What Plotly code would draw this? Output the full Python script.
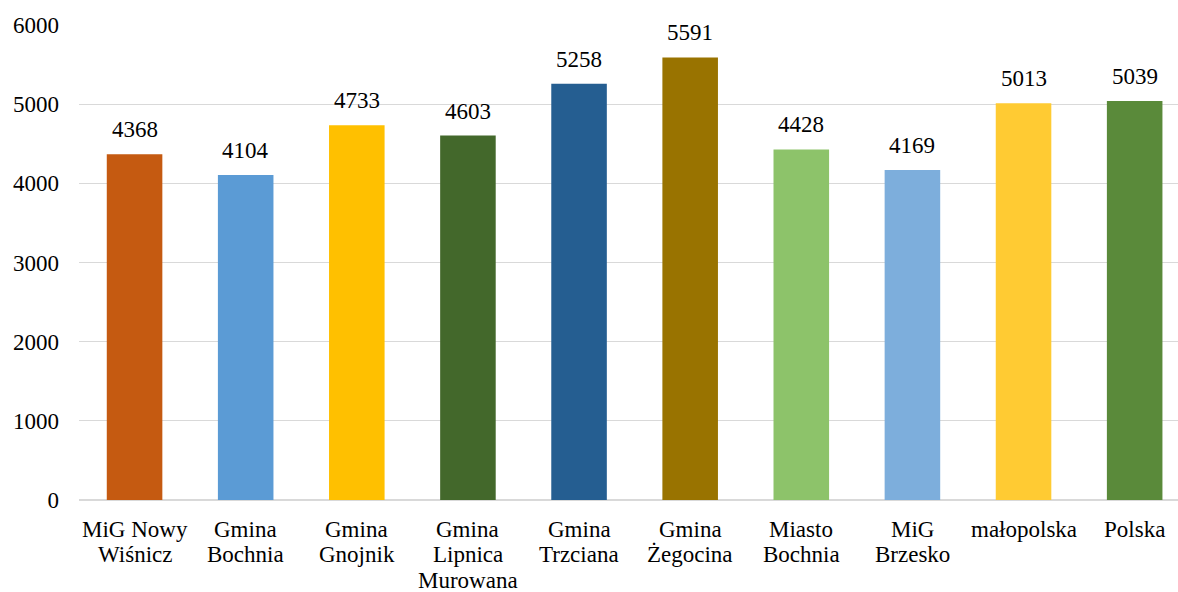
import plotly.graph_objects as go

categories = ["MiG Nowy<br>Wiśnicz", "Gmina<br>Bochnia", "Gmina<br>Gnojnik", "Gmina<br>Lipnica<br>Murowana",
              "Gmina<br>Trzciana", "Gmina<br>Żegocina", "Miasto<br>Bochnia", "MiG<br>Brzesko",
              "małopolska", "Polska"]
values = [4368, 4104, 4733, 4603, 5258, 5591, 4428, 4169, 5013, 5039]
colors = ["#C55A11", "#5B9BD5", "#FFC000", "#43682B", "#255E91", "#997300",
          "#8DC36A", "#7DAEDC", "#FFCB33", "#5A8A3A"]
y_ticks = [0, 1000, 2000, 3000, 4000, 5000, 6000]

font = "Liberation Serif, Times New Roman, serif"
fsize = 23

xs = list(range(len(categories)))
fig = go.Figure(go.Bar(
    x=xs, y=values,
    marker=dict(color=colors, line=dict(width=0)),
    width=0.5,
    hoverinfo="skip",
))

for x, v in zip(xs, values):
    fig.add_annotation(x=x, y=v, text=str(v), showarrow=False, yanchor="bottom",
                       yshift=10, font=dict(family=font, size=fsize, color="#000000"))

# category labels, one annotation per line to match the tighter line spacing
for x, label in zip(xs, categories):
    for k, line in enumerate(label.split("<br>")):
        fig.add_annotation(x=x, xref="x", y=0, yref="paper", text=line, showarrow=False,
                           yanchor="middle", yshift=-(29 + 25.5 * k), borderpad=0,
                           font=dict(family=font, size=23, color="#000000"))

fig.update_layout(
    width=1178, height=592,
    margin=dict(l=79, r=0, t=25, b=92, autoexpand=False),
    paper_bgcolor="white", plot_bgcolor="white",
    showlegend=False,
    font=dict(family=font, size=fsize, color="#000000"),
)
fig.update_xaxes(
    tickmode="array", tickvals=xs, showticklabels=False,
    range=[-0.5, 9.39], showgrid=False, showline=False, ticks="",
    automargin=False,
)
fig.update_yaxes(
    range=[0, 6000], tickvals=y_ticks, showgrid=True, gridcolor="#D9D9D9", gridwidth=1.3,
    zeroline=True, zerolinecolor="#D9D9D9", zerolinewidth=2,
    showline=False, ticks="", ticklabelstandoff=19, automargin=False,
    tickfont=dict(family=font, size=fsize, color="#000000"),
)

fig.write_html("out.html", config={"displayModeBar": False},
               post_script="document.body.style.margin='0';document.body.style.overflow='hidden';")
